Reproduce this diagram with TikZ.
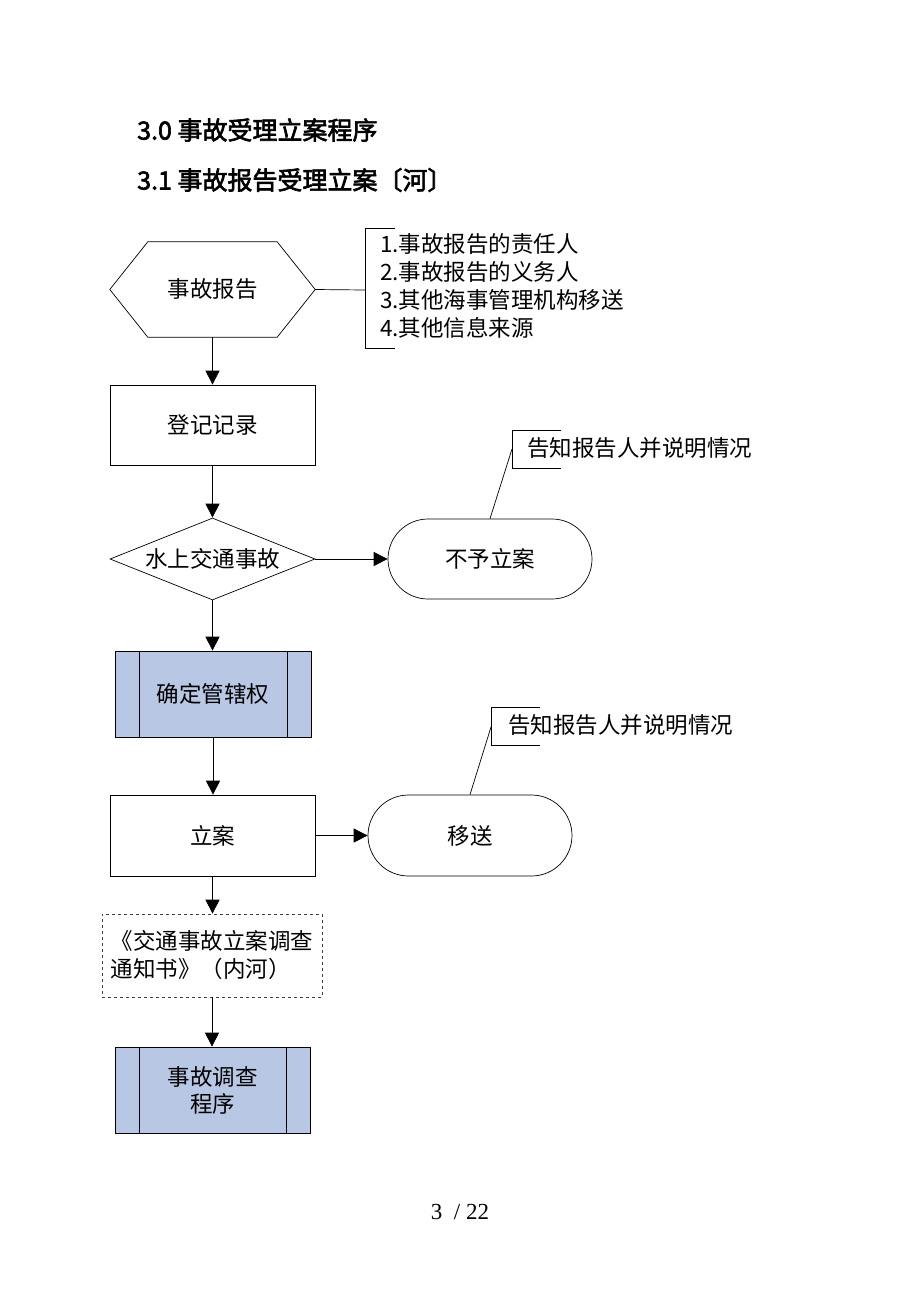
\documentclass[tikz,border=0pt]{standalone}
\usepackage{fontspec}
\setmainfont{Liberation Serif}
\newfontfamily\cjk{Noto Sans CJK SC}
\newfontfamily\cjkb[FakeBold=2.5]{Noto Sans CJK SC}
\usetikzlibrary{shapes.geometric,shapes.misc,arrows.meta}
\definecolor{procblue}{RGB}{184,200,228}
\begin{document}
\begin{tikzpicture}[x=1pt,y=-1pt,
  every node/.style={font=\cjk\fontsize{22.5}{28}\selectfont, text=black},
  line/.style={draw=black, line width=0.7pt},
  arr/.style={line, -{Triangle[length=14pt,width=14pt]}},
  boxnode/.style={line, rectangle, minimum width=205pt, minimum height=80pt, inner sep=0pt},
  term/.style={line, rounded rectangle, minimum width=204pt, minimum height=80pt, inner sep=0pt},
  proc/.style={line, fill=procblue, rectangle, minimum width=196pt, minimum height=86pt, inner sep=0pt, align=center},
  head/.style={font=\cjkb\fontsize{25}{28}\selectfont, anchor=west, inner sep=0pt},
  note/.style={anchor=west, inner sep=0pt}]
\useasboundingbox[fill=white] (0,0) rectangle (920,1302);

% headings
\node[head] (h1) at (137,130) {3.0 事故受理立案程序};
\node[head] (h2) at (137,180) {3.1 事故报告受理立案〔河〕};

% hexagon
\node (hex) [minimum width=205pt, minimum height=95pt, inner sep=0pt] at (212.5,289.5) {事故报告};
\draw[line] (hex.west) -- ([xshift=38pt]hex.north west) -- ([xshift=-38pt]hex.north east)
  -- (hex.east) -- ([xshift=-38pt]hex.south east) -- ([xshift=38pt]hex.south west) -- cycle;

% list with bracket
\node (list) [note, align=left] at (380,286) {1.事故报告的责任人\\2.事故报告的义务人\\3.其他海事管理机构移送\\4.其他信息来源};
\coordinate (br) at (365,290);
\draw[line] (395,228) -- (365,228) -- (365,348) -- (395,348);
\draw[line] (hex.east) -- (br);

% register
\node (rec1) [boxnode] at (212.5,425) {登记记录};
\draw[arr] (hex.south) -- (rec1.north);

% decision
\node (dia) [line, diamond, aspect=2.5, minimum width=205pt, minimum height=82pt, inner sep=0pt] at (212.5,559) {水上交通事故};
\draw[arr] (rec1.south) -- (dia.north);

\node (term1) [term] at (490,559) {不予立案};
\draw[arr] (dia.east) -- (term1.west);

% callout 1
\node (note1) [note] at (527,448) {告知报告人并说明情况};
\draw[line] (561,430) -- (512,430) -- (512,468) -- (561,468);
\coordinate (c1) at (512,449);
\draw[line] (term1.north) -- (c1);

% jurisdiction
\node (proc1) [proc] at (213,694) {确定管辖权};
\draw[line] ([xshift=25pt]proc1.north west) -- ([xshift=25pt]proc1.south west);
\draw[line] ([xshift=-24pt]proc1.north east) -- ([xshift=-24pt]proc1.south east);
\draw[arr] (dia.south) -- (dia.south |- proc1.north);

% file case
\node (rec2) [boxnode, minimum height=81pt] at (212.5,835.5) {立案};
\draw[arr] (proc1.south) -- (proc1.south |- rec2.north);

\node (term2) [term, minimum height=81pt] at (470,835.5) {移送};
\draw[arr] (rec2.east) -- (term2.west);

% callout 2
\node (note2) [note] at (508,725) {告知报告人并说明情况};
\draw[line] (540,707) -- (491,707) -- (491,745) -- (540,745);
\coordinate (c2) at (491,727);
\draw[line] (term2.north) -- (c2);

% dashed document
\node (doc) [draw=black!75, dashed, line width=0.7pt, rectangle, minimum width=220pt, minimum height=83pt, inner sep=0pt, align=left] at (212,955.5) {《交通事故立案调查\\通知书》（内河）};
\draw[arr] (rec2.south) -- (rec2.south |- doc.north);

% investigation
\node (proc2) [proc, minimum width=195pt, font=\cjk\fontsize{22.5}{27}\selectfont] at (212.5,1090) {事故调查\\程序};
\draw[line] ([xshift=25pt]proc2.north west) -- ([xshift=25pt]proc2.south west);
\draw[line] ([xshift=-24pt]proc2.north east) -- ([xshift=-24pt]proc2.south east);
\draw[arr] (doc.south) -- (doc.south |- proc2.north);

% page number
\node (page) [font=\rmfamily\fontsize{23}{26}\selectfont, inner sep=0pt] at (460,1212) {3\ \ / 22};
\end{tikzpicture}
\end{document}
